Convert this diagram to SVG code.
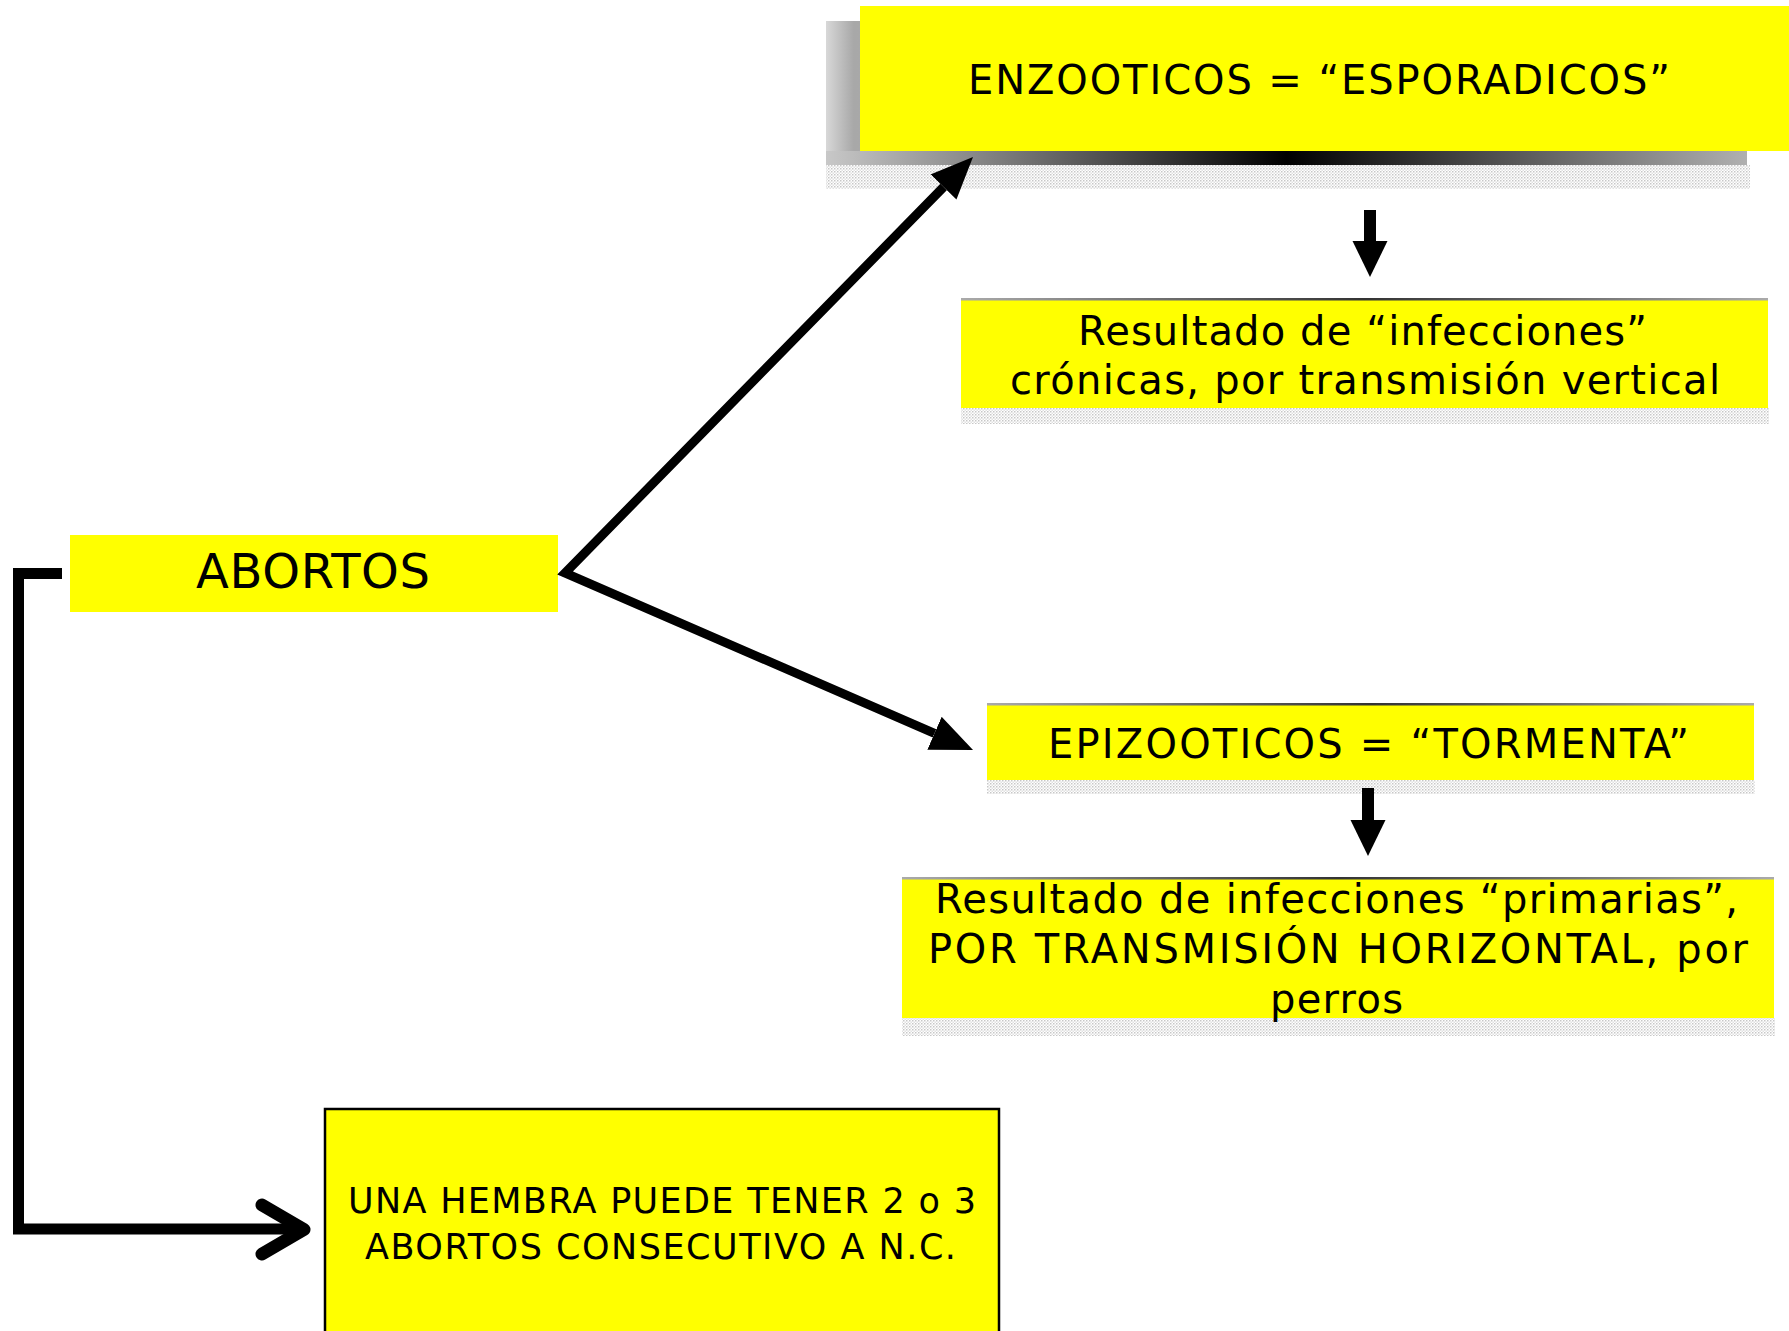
<svg xmlns="http://www.w3.org/2000/svg" width="1789" height="1331" viewBox="0 0 1789 1331">
<style>
.box{fill:#FFFF00;}
.t{font-family:"DejaVu Sans","Liberation Sans",sans-serif;fill:#000;}
.conn{fill:none;stroke:#000;}
</style>
<defs>
<pattern id="dots" width="3" height="3" patternUnits="userSpaceOnUse">
<rect x="0" y="0" width="1.5" height="1.5" fill="#9a9a9a"/>
<rect x="1.5" y="1.5" width="1.5" height="1.5" fill="#c8c8c8"/>
</pattern>
<linearGradient id="topline" x1="0" y1="0" x2="1" y2="0">
<stop offset="0" stop-color="#aaa"/>
<stop offset="0.5" stop-color="#333"/>
<stop offset="1" stop-color="#aaa"/>
</linearGradient>
<linearGradient id="band" x1="0" y1="0" x2="1" y2="0">
<stop offset="0" stop-color="#c8c8c8"/>
<stop offset="0.5" stop-color="#000"/>
<stop offset="1" stop-color="#b0b0b0"/>
</linearGradient>
<linearGradient id="gray3d" x1="0" y1="0" x2="1" y2="0">
<stop offset="0" stop-color="#d8d8d8"/>
<stop offset="0.03" stop-color="#a8a8a8"/>
<stop offset="1" stop-color="#c0c0c0"/>
</linearGradient>
<marker id="head" markerUnits="userSpaceOnUse" markerWidth="44" markerHeight="40" refX="0" refY="18" orient="auto-start-reverse">
<path d="M0,0 L42,18 L0,36 z" fill="#000"/>
</marker>
<marker id="headS" markerUnits="userSpaceOnUse" markerWidth="38" markerHeight="36" refX="0" refY="17.5" orient="auto">
<path d="M0,0 L36,17.5 L0,35 z" fill="#000"/>
</marker>
</defs>

<g id="enzooticos">
<rect x="826" y="21" width="921" height="144" fill="url(#gray3d)"/>
<rect x="826" y="151" width="921" height="14" fill="url(#band)"/>
<rect x="826" y="165" width="924" height="24" fill="url(#dots)" opacity="0.55"/>
<rect class="box" x="860" y="6" width="929" height="145"/>
<text class="t" x="968" y="94" font-size="40" textLength="702" lengthAdjust="spacing">ENZOOTICOS = “ESPORADICOS”</text>
</g>

<g id="cronicas">
<rect x="961" y="408" width="808" height="16" fill="url(#dots)" opacity="0.55"/>
<rect class="box" x="961" y="299" width="807" height="109"/>
<rect x="961" y="298" width="807" height="2.5" fill="url(#topline)"/>
<text class="t" x="1078" y="345" font-size="40" textLength="569" lengthAdjust="spacing">Resultado de “infecciones”</text>
<text class="t" x="1010" y="394" font-size="40" textLength="710" lengthAdjust="spacing">crónicas, por transmisión vertical</text>
</g>

<g id="abortos">
<rect class="box" x="70" y="535" width="488" height="77"/>
<text class="t" x="196" y="588" font-size="48" textLength="234" lengthAdjust="spacing">ABORTOS</text>
</g>

<g id="epizooticos">
<rect x="987" y="780" width="768" height="14" fill="url(#dots)" opacity="0.55"/>
<rect class="box" x="987" y="704" width="767" height="76"/>
<rect x="987" y="703" width="767" height="2.5" fill="url(#topline)"/>
<text class="t" x="1048" y="758" font-size="40" textLength="641" lengthAdjust="spacing">EPIZOOTICOS = “TORMENTA”</text>
</g>

<g id="primarias">
<rect x="902" y="1018" width="873" height="18" fill="url(#dots)" opacity="0.55"/>
<rect class="box" x="902" y="878" width="872" height="140"/>
<rect x="902" y="877" width="872" height="2.5" fill="url(#topline)"/>
<text class="t" x="935" y="913" font-size="40" textLength="803" lengthAdjust="spacing">Resultado de infecciones “primarias”,</text>
<text class="t" x="928" y="963" font-size="40" textLength="820" lengthAdjust="spacing">POR TRANSMISIÓN HORIZONTAL, por</text>
<text class="t" x="1270" y="1013" font-size="40" textLength="133" lengthAdjust="spacing">perros</text>
</g>

<g id="hembra">
<rect class="box" x="325" y="1109" width="674" height="240" stroke="#000" stroke-width="2.5"/>
<text class="t" x="348" y="1213" font-size="35" textLength="628" lengthAdjust="spacing">UNA HEMBRA PUEDE TENER 2 o 3</text>
<text class="t" x="365" y="1259" font-size="35" textLength="591" lengthAdjust="spacing">ABORTOS CONSECUTIVO A N.C.</text>
</g>

<g id="connectors">
<path class="conn" d="M943.6,187 L565,573 L934.5,733.3" stroke-width="9" stroke-linejoin="miter" marker-start="url(#head)" marker-end="url(#head)"/>
<line class="conn" x1="1370" y1="210" x2="1370" y2="241" stroke-width="12" marker-end="url(#headS)"/>
<line class="conn" x1="1368" y1="788" x2="1368" y2="820" stroke-width="12" marker-end="url(#headS)"/>
<path class="conn" d="M62,573.5 L18.5,573.5 L18.5,1229 L300,1229" stroke-width="11" stroke-linejoin="miter"/>
<path class="conn" d="M262,1205 L304,1229.5 L262,1254" stroke-width="13" stroke-linecap="round" stroke-linejoin="round"/>
</g>
</svg>
